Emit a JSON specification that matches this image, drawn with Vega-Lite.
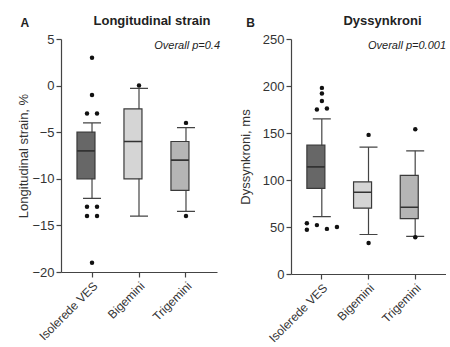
{
  "$schema": "https://vega.github.io/schema/vega-lite/v6.json",
  "background": "white",
  "padding": {"left": 17, "top": 15, "right": 0, "bottom": 0},
  "datasets": {
    "strain": [
      {"group": "Isolerede VES", "lo": -12.1, "q1": -10, "median": -7, "q3": -5, "hi": -4},
      {"group": "Bigemini", "lo": -14, "q1": -10, "median": -6, "q3": -2.5, "hi": -0.3},
      {"group": "Trigemini", "lo": -13.5, "q1": -11.25, "median": -8, "q3": -6, "hi": -4.5}
    ],
    "strainOut": [
      {"group": "Isolerede VES", "value": 3, "side": 0},
      {"group": "Isolerede VES", "value": -1, "side": 0},
      {"group": "Isolerede VES", "value": -3, "side": -1},
      {"group": "Isolerede VES", "value": -3, "side": 1},
      {"group": "Isolerede VES", "value": -13, "side": -1},
      {"group": "Isolerede VES", "value": -13, "side": 1},
      {"group": "Isolerede VES", "value": -14, "side": -1},
      {"group": "Isolerede VES", "value": -14, "side": 1},
      {"group": "Isolerede VES", "value": -19, "side": 0},
      {"group": "Bigemini", "value": 0, "side": 0},
      {"group": "Trigemini", "value": -4, "side": 0},
      {"group": "Trigemini", "value": -14, "side": 0}
    ],
    "dys": [
      {"group": "Isolerede VES", "lo": 61, "q1": 91, "median": 114, "q3": 137, "hi": 165},
      {"group": "Bigemini", "lo": 42, "q1": 70, "median": 87, "q3": 98, "hi": 135},
      {"group": "Trigemini", "lo": 40, "q1": 59, "median": 71, "q3": 105, "hi": 131}
    ],
    "dysOut": [
      {"group": "Isolerede VES", "value": 198, "side": 0},
      {"group": "Isolerede VES", "value": 192, "side": 0},
      {"group": "Isolerede VES", "value": 184, "side": 0},
      {"group": "Isolerede VES", "value": 175, "side": -1},
      {"group": "Isolerede VES", "value": 176, "side": 1},
      {"group": "Isolerede VES", "value": 54, "side": -3},
      {"group": "Isolerede VES", "value": 47, "side": -3},
      {"group": "Isolerede VES", "value": 52, "side": -1},
      {"group": "Isolerede VES", "value": 48, "side": 1},
      {"group": "Isolerede VES", "value": 50, "side": 3},
      {"group": "Bigemini", "value": 148, "side": 0},
      {"group": "Bigemini", "value": 33, "side": 0},
      {"group": "Trigemini", "value": 154, "side": 0},
      {"group": "Trigemini", "value": 39, "side": 0}
    ]
  },
  "hconcat": [
    {
      "title": {"text": "A", "anchor": "start", "fontSize": 12, "fontWeight": "bold", "dx": 3, "dy": 19},
      "vconcat": [
        {
          "width": 156,
          "height": 233,
          "title": {"text": "Longitudinal strain", "fontSize": 13, "fontWeight": "bold", "dx": 13, "offset": 5},
          "encoding": {
            "x": {"field": "group", "type": "nominal", "sort": ["Isolerede VES", "Bigemini", "Trigemini"], "title": null,
                  "scale": {"paddingInner": 0.36, "paddingOuter": 0.34}}
          },
          "layer": [
            {
              "data": {"name": "strain"},
              "mark": {"type": "rule", "color": "#444", "strokeWidth": 1.2},
              "encoding": {
                "y": {"field": "lo", "type": "quantitative", "title": "Longitudinal strain, %",
                      "scale": {"domain": [-20, 5], "nice": false},
                      "axis": {"values": [-20, -15, -10, -5, 0, 5], "titlePadding": 1.5}},
                "y2": {"field": "hi"}
              }
            },
            {
              "data": {"name": "strain"},
              "mark": {"type": "bar", "stroke": "#3a3a3a", "strokeWidth": 1.2},
              "encoding": {
                "y": {"field": "q1", "type": "quantitative"},
                "y2": {"field": "q3"},
                "fill": {"field": "group", "type": "nominal", "legend": null,
                         "scale": {"domain": ["Isolerede VES", "Bigemini", "Trigemini"], "range": ["#676767", "#d5d5d5", "#b5b5b5"]}}
              }
            },
            {
              "data": {"name": "strain"},
              "mark": {"type": "bar", "stroke": "#333", "strokeWidth": 1.6},
              "encoding": {
                "y": {"field": "median", "type": "quantitative"},
                "y2": {"field": "median"}
              }
            },
            {
              "data": {"name": "strain"},
              "mark": {"type": "bar", "size": 18, "stroke": "#444", "strokeWidth": 1.2},
              "encoding": {
                "y": {"field": "lo", "type": "quantitative"},
                "y2": {"field": "lo"}
              }
            },
            {
              "data": {"name": "strain"},
              "mark": {"type": "bar", "size": 18, "stroke": "#444", "strokeWidth": 1.2},
              "encoding": {
                "y": {"field": "hi", "type": "quantitative"},
                "y2": {"field": "hi"}
              }
            },
            {
              "data": {"name": "strainOut"},
              "mark": {"type": "circle", "color": "#111", "size": 20, "opacity": 1},
              "encoding": {
                "xOffset": {"field": "side", "type": "ordinal", "scale": {"type": "point", "domain": [-3, -2, -1, 0, 1, 2, 3], "padding": 0}},
                "y": {"field": "value", "type": "quantitative"}
              }
            },
            {
              "data": {"values": [{}]},
              "mark": {"type": "text", "text": "Overall p=0.4", "fontStyle": "italic", "fontSize": 11, "align": "right", "baseline": "top", "dx": 3, "dy": 1, "color": "#222"},
              "encoding": {
                "x": {"value": "width"},
                "y": {"datum": 5, "type": "quantitative"}
              }
            }
          ]
        }
      ]
    },
    {
      "title": {"text": "B", "anchor": "start", "fontSize": 12, "fontWeight": "bold", "dx": 7, "dy": 19},
      "vconcat": [
        {
          "width": 155,
          "height": 235,
          "title": {"text": "Dyssynkroni", "fontSize": 13, "fontWeight": "bold", "dx": 14, "offset": 5},
          "encoding": {
            "x": {"field": "group", "type": "nominal", "sort": ["Isolerede VES", "Bigemini", "Trigemini"], "title": null,
                  "scale": {"paddingInner": 0.36, "paddingOuter": 0.34}}
          },
          "layer": [
            {
              "data": {"name": "dys"},
              "mark": {"type": "rule", "color": "#444", "strokeWidth": 1.2},
              "encoding": {
                "y": {"field": "lo", "type": "quantitative", "title": "Dyssynkroni, ms",
                      "scale": {"domain": [0, 250], "nice": false},
                      "axis": {"values": [0, 50, 100, 150, 200, 250], "titlePadding": 10}},
                "y2": {"field": "hi"}
              }
            },
            {
              "data": {"name": "dys"},
              "mark": {"type": "bar", "stroke": "#3a3a3a", "strokeWidth": 1.2},
              "encoding": {
                "y": {"field": "q1", "type": "quantitative"},
                "y2": {"field": "q3"},
                "fill": {"field": "group", "type": "nominal", "legend": null,
                         "scale": {"domain": ["Isolerede VES", "Bigemini", "Trigemini"], "range": ["#676767", "#d5d5d5", "#b5b5b5"]}}
              }
            },
            {
              "data": {"name": "dys"},
              "mark": {"type": "bar", "stroke": "#333", "strokeWidth": 1.6},
              "encoding": {
                "y": {"field": "median", "type": "quantitative"},
                "y2": {"field": "median"}
              }
            },
            {
              "data": {"name": "dys"},
              "mark": {"type": "bar", "size": 18, "stroke": "#444", "strokeWidth": 1.2},
              "encoding": {
                "y": {"field": "lo", "type": "quantitative"},
                "y2": {"field": "lo"}
              }
            },
            {
              "data": {"name": "dys"},
              "mark": {"type": "bar", "size": 18, "stroke": "#444", "strokeWidth": 1.2},
              "encoding": {
                "y": {"field": "hi", "type": "quantitative"},
                "y2": {"field": "hi"}
              }
            },
            {
              "data": {"name": "dysOut"},
              "mark": {"type": "circle", "color": "#111", "size": 20, "opacity": 1},
              "encoding": {
                "xOffset": {"field": "side", "type": "ordinal", "scale": {"type": "point", "domain": [-3, -2, -1, 0, 1, 2, 3], "padding": 0}},
                "y": {"field": "value", "type": "quantitative"}
              }
            },
            {
              "data": {"values": [{}]},
              "mark": {"type": "text", "text": "Overall p=0.001", "fontStyle": "italic", "fontSize": 11, "align": "right", "baseline": "top", "dy": 1, "color": "#222"},
              "encoding": {
                "x": {"value": "width"},
                "y": {"datum": 250, "type": "quantitative"}
              }
            }
          ]
        }
      ]
    }
  ],
  "spacing": 19,
  "config": {
    "font": "Liberation Sans",
    "view": {"stroke": null},
    "title": {"color": "#222", "font": "Liberation Sans"},
    "axis": {
      "grid": false,
      "domainColor": "#444",
      "domainWidth": 1.2,
      "tickColor": "#444",
      "tickWidth": 1.2,
      "tickSize": 5,
      "labelColor": "#333",
      "labelFontSize": 13,
      "labelFont": "Liberation Sans",
      "titleFont": "Liberation Sans",
      "titleFontSize": 13,
      "titleFontWeight": "normal",
      "titleColor": "#333",
      "labelPadding": 2
    },
    "axisX": {"labelAngle": -45, "labelAlign": "right", "labelBaseline": "top", "labelPadding": 3, "labelFontSize": 12}
  }
}
